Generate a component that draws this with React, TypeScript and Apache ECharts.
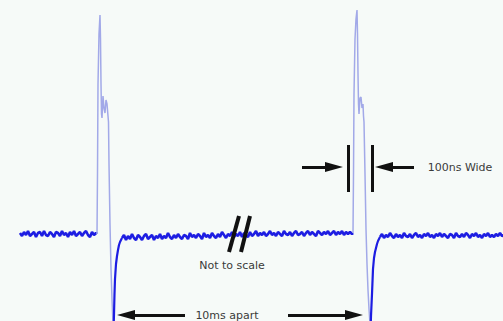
import React, { useEffect, useRef } from "react";
import * as echarts from "echarts";

// trace samples: [time (arb. units), amplitude (arb. units)]
const baseLeft: number[][] = [
  [20, 1], [22, -2], [24, 2], [26, -1], [28, 3], [30, -2], [32, 0], [34, 2], [36, -3], [38, 1],
  [40, 2], [42, -2], [44, 3], [46, -1], [48, -2], [50, 2], [52, 0], [54, -3], [56, 2], [58, 1],
  [60, -2], [62, 3], [64, -1], [66, 1], [68, -3], [70, 2], [72, -1], [74, 3], [76, -2], [78, 0],
  [80, 2], [82, -2], [84, 1], [86, 3], [88, -1], [90, -3], [92, 2], [94, -1], [96, 1], [97, 0],
];

const pulse1: number[][] = [
  [97, 0], [97.5, 60], [98, 150], [99, 200], [100, 219], [100.5, 195], [101, 150], [101.5, 120],
  [102, 116], [103, 138], [104, 126], [105, 121], [106, 134], [107, 130], [108, 118], [108.5, 112],
  [109, 70], [110, 10], [111, -35], [112, -65], [113, -90], [113.5, -100],
];

const tail1: number[][] = [
  [113.5, -100], [114, -80], [114.5, -60], [115, -45], [116, -30], [117, -22], [118, -16],
  [119, -11], [120, -8], [121, -6], [122, -4],
];

const baseMid: number[][] = [
  [122, -4], [124, -1], [126, -6], [128, -2], [130, -5], [132, 0], [134, -4], [136, -6], [138, -1],
  [140, -3], [142, -6], [144, -2], [146, 0], [148, -5], [150, -3], [152, -1], [154, -6], [156, -2],
  [158, -4], [160, 0], [162, -5], [164, -2], [166, -4], [168, 1], [170, -3], [172, -5], [174, -1],
  [176, -4], [178, 0], [180, -3], [182, -5], [184, -1], [186, -2], [188, -5], [190, 1], [192, -3],
  [194, -1], [196, -4], [198, 0], [200, -2], [202, -5], [204, 1], [206, -3], [208, -1], [210, -4],
  [212, 1], [214, -2], [216, -4], [218, 0], [220, -3], [222, 2], [224, -1], [226, -4], [228, 0],
  [230, -2], [232, 2], [234, -3], [236, 0], [238, -2], [240, 2], [242, -3], [244, 1], [246, -1],
  [248, -3], [250, 2], [252, -2], [254, 0], [256, 3], [258, -2], [260, 1], [262, -1], [264, 2],
  [266, -2], [268, 0], [270, 3], [272, -1], [274, 1], [276, -2], [278, 2], [280, 0], [282, -2],
  [284, 3], [286, 0], [288, -1], [290, 2], [292, -2], [294, 1], [296, 3], [298, -1], [300, 0],
  [302, 2], [304, -2], [306, 1], [308, 3], [310, -1], [312, 2], [314, 0], [316, -2], [318, 3],
  [320, 1], [322, -1], [324, 2], [326, 0], [328, 3], [330, -1], [332, 1], [334, 3], [336, -1],
  [338, 2], [340, 0], [342, 3], [344, -1], [346, 2], [348, 0], [350, 2], [352, 0], [353, 1],
];

const pulse2: number[][] = [
  [353, 1], [353.5, 60], [354, 140], [355, 195], [356, 215], [357, 224], [357.5, 200], [358, 160],
  [358.5, 130], [359, 120], [360, 136], [361, 137], [362, 126], [363, 130], [363.5, 118], [364, 112],
  [365, 60], [366, 5], [367, -30], [368, -56], [369, -75], [370, -90], [370.5, -100],
];

const tail2: number[][] = [
  [370.5, -100], [371, -82], [372, -60], [373, -35], [374, -24], [375, -18], [376, -14],
  [377, -10], [378, -7], [379, -5], [380, -3],
];

const baseRight: number[][] = [
  [380, -3], [382, 0], [384, -4], [386, -1], [388, -3], [390, 1], [392, -2], [394, -4], [396, 0],
  [398, -3], [400, -1], [402, -4], [404, 1], [406, -2], [408, -3], [410, 0], [412, -4], [414, -1],
  [416, 1], [418, -3], [420, -1], [422, -4], [424, 0], [426, -2], [428, 1], [430, -3], [432, -1],
  [434, -4], [436, 0], [438, -2], [440, 1], [442, -3], [444, 0], [446, -2], [448, -4], [450, 0],
  [452, -1], [454, -4], [456, 1], [458, -2], [460, -3], [462, 0], [464, -3], [466, 1], [468, -1],
  [470, -4], [472, 0], [474, -2], [476, 1], [478, -3], [480, -1], [482, -4], [484, 0], [486, -2],
  [488, 1], [490, -3], [492, -1], [494, -3], [496, 0], [498, -2], [500, 1], [502, -2], [504, -1],
];

// annotation geometry in data units: [x1, y1, x2, y2]
const arrowLines: number[][] = [
  [302, 67, 334, 67],
  [414, 67, 384, 67],
  [185, -81, 126, -81],
  [288, -81, 354, -81],
];
const widthBars: number[][] = [
  [348, 89, 348, 42],
  [372, 89, 372, 42],
];
const breakMarks: number[][] = [
  [239, 18, 229, -18],
  [250, 18, 241, -18],
];
const labels: { text: string; x: number; y: number }[] = [
  { text: "100ns Wide", x: 460, y: 67 },
  { text: "Not to scale", x: 232, y: -31 },
  { text: "10ms apart", x: 227, y: -81 },
];

const DARK = "#1d1de2";
const LIGHT = "#a2a9e8";

export default function App() {
  const ref = useRef<HTMLDivElement>(null);
  useEffect(() => {
    if (!ref.current) return;
    const chart = echarts.init(ref.current, null, { renderer: "svg" });
    const trace = (data: number[][], color: string, width: number) => ({
      type: "line",
      data,
      showSymbol: false,
      symbol: "none",
      silent: true,
      lineStyle: { color, width, join: "bevel" },
    });
    const seg = (l: number[][], sym: boolean, w: number) =>
      l.map((p) => [
        { coord: [p[0], p[1]], symbol: "none", lineStyle: { width: w, color: "#111" } },
        { coord: [p[2], p[3]], symbol: sym ? "triangle" : "none" },
      ]);
    chart.setOption({
      animation: false,
      backgroundColor: "#f6faf8",
      grid: { left: 0, right: 0, top: 0, bottom: 0 },
      xAxis: { type: "value", min: 0, max: 503, show: false },
      yAxis: { type: "value", min: -87, max: 234, show: false },
      series: [
        trace(baseLeft, DARK, 2.6),
        trace(pulse1, LIGHT, 1.5),
        trace(tail1, DARK, 2.2),
        trace(baseMid, DARK, 2.6),
        trace(pulse2, LIGHT, 1.5),
        trace(tail2, DARK, 2.2),
        {
          ...trace(baseRight, DARK, 2.6),
          markLine: {
            silent: true,
            z: 10,
            symbolSize: [10, 18],
            label: { show: false },
            lineStyle: { type: "solid", color: "#111", width: 3 },
            itemStyle: { color: "#111" },
            emphasis: { disabled: true },
            data: [
              ...seg(arrowLines, true, 3),
              ...seg(widthBars, false, 3),
              ...seg(breakMarks, false, 4),
            ],
          },
          markPoint: {
            silent: true,
            z: 10,
            symbol: "circle",
            symbolSize: 1,
            itemStyle: { color: "transparent" },
            label: {
              show: true,
              position: "inside",
              formatter: "{b}",
              color: "#3a3a3a",
              fontSize: 11,
              fontFamily: "DejaVu Sans",
            },
            data: labels.map((l) => ({ name: l.text, coord: [l.x, l.y] })),
          },
        },
      ],
    });
    return () => chart.dispose();
  }, []);
  return (
    <div
      ref={ref}
      style={{ position: "absolute", left: 0, top: 0, width: 503, height: 321 }}
    />
  );
}
